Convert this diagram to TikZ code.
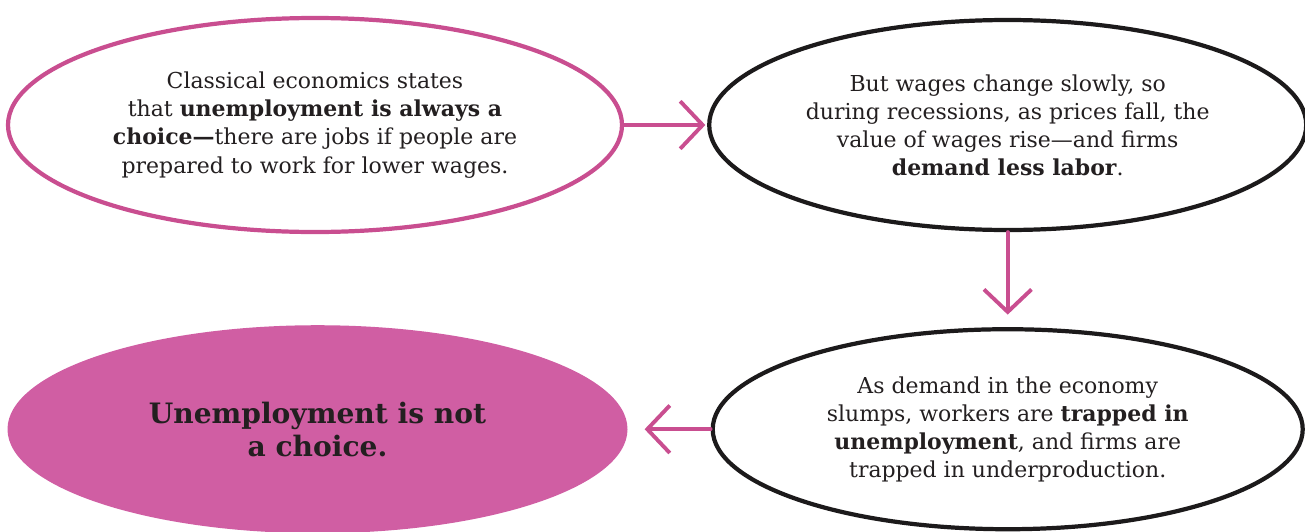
\documentclass[tikz,border=0pt]{standalone}
\usepackage{fontspec}
\setmainfont{DejaVu Serif}
\newfontfamily\slabfont{DejaVu Serif}
\usetikzlibrary{positioning,shapes.geometric,arrows.meta}

\definecolor{inkpink}{HTML}{C94E90}
\definecolor{fillpink}{HTML}{D05EA3}
\definecolor{inkblack}{HTML}{1C1A1B}
\definecolor{inktext}{HTML}{231F20}

\begin{document}
\begin{tikzpicture}[
    font=\fontsize{12.5}{16}\selectfont,
    >={Straight Barb[length=0.45cm,width=0.95cm]},
    bubble/.style={
        ellipse,
        align=center,
        inner sep=0pt,
        text=inktext,
        line width=2.4pt
    },
    pinkbubble/.style={
        bubble,
        draw=inkpink
    },
    blackbubble/.style={
        bubble,
        draw=inkblack
    },
    fillbubble/.style={
        bubble,
        fill=fillpink,
        font=\slabfont\bfseries\fontsize{16}{19}\selectfont
    },
    arrow/.style={
        ->,
        line width=2.2pt,
        draw=inkpink,
        line cap=round
    }
]

% Dimensions
\def\hsep{1.66cm}
\def\vsep{1.9cm}

\useasboundingbox (0,0) rectangle (26.1,-10.62);

% Classical view
\node[pinkbubble, minimum width=12.28cm, minimum height=4.28cm] (classical) at (6.3,-2.5) {
    Classical economics states\\
    that \textbf{unemployment is always a}\\
    \textbf{choice---}there are jobs if people are\\
    prepared to work for lower wages.
};

% Sticky wages
\node[blackbubble, right=\hsep of classical, minimum width=11.94cm, minimum height=4.2cm] (wages) {
    But wages change slowly, so\\
    during recessions, as prices fall, the\\
    value of wages rise---and firms\\
    \textbf{demand less labor}.
};

% Slump
\node[blackbubble, below=\vsep of wages, minimum width=11.8cm, minimum height=4.0cm] (slump) {
    As demand in the economy\\
    slumps, workers are \textbf{trapped in}\\
    \textbf{unemployment}, and firms are\\
    trapped in underproduction.
};

% Conclusion
\node[fillbubble, left=1.62cm of slump, minimum width=12.4cm, minimum height=4.16cm] (result) {
    Unemployment is not\\
    a choice.
};

% Arrows
\draw[arrow, shorten >=1pt] (classical) -- (wages);
\draw[arrow, shorten >=0.25cm] (wages) -- (slump);
\draw[arrow, shorten >=0.3cm] (slump) -- (result);

\end{tikzpicture}
\end{document}
